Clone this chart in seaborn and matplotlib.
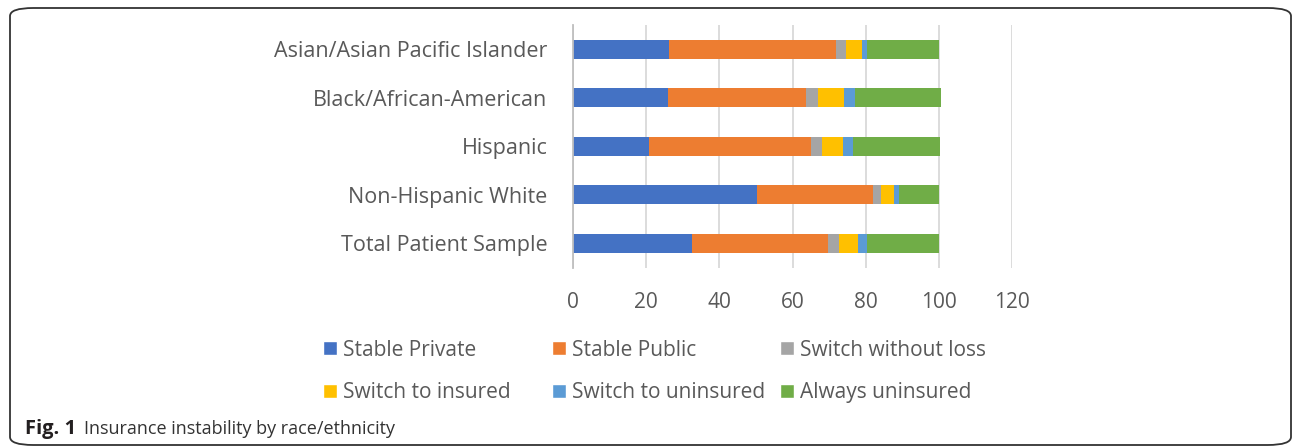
import matplotlib
matplotlib.use("Agg")
import pandas as pd
import matplotlib.pyplot as plt
import seaborn as sns
from matplotlib.patches import FancyBboxPatch, Patch

# Categories (top to bottom as drawn)
groups = ["Asian/Asian Pacific Islander", "Black/African-American", "Hispanic",
          "Non-Hispanic White", "Total Patient Sample"]

# Percentages per insurance pattern
stable_private = [26.3, 25.9, 20.8, 50.3, 32.5]
stable_public = [45.5, 37.9, 44.3, 31.6, 37.1]
switch_no_loss = [2.9, 3.3, 3.0, 2.4, 3.0]
switch_insured = [4.4, 7.1, 5.7, 3.5, 5.3]
switch_uninsured = [1.4, 2.9, 2.8, 1.4, 2.6]
always_uninsured = [19.5, 23.4, 23.6, 10.8, 19.5]

series_names = ["Stable Private", "Stable Public", "Switch without loss",
                "Switch to insured", "Switch to uninsured", "Always uninsured"]
colors = ["#4472C4", "#ED7D31", "#A5A5A5", "#FFC000", "#5B9BD5", "#70AD47"]

df = pd.DataFrame({"group": groups,
                   "Stable Private": stable_private,
                   "Stable Public": stable_public,
                   "Switch without loss": switch_no_loss,
                   "Switch to insured": switch_insured,
                   "Switch to uninsured": switch_uninsured,
                   "Always uninsured": always_uninsured})
cum = df[series_names].cumsum(axis=1)

sns.set_style("white")
plt.rcParams['font.family'] = ['Open Sans', 'DejaVu Sans']
text_col = "#595959"
W, H = 1292, 447

fig = plt.figure(figsize=(W / 100, H / 100), dpi=100)
ax = fig.add_axes([573 / W, 1 - 267.5 / H, 439 / W, 242.5 / H])

# stacked bars: draw cumulative totals from the largest down
for name, col in reversed(list(zip(series_names, colors))):
    sns.barplot(x=cum[name], y=df["group"], color=col, width=0.4,
                orient="h", ax=ax, saturation=1, edgecolor="none")

ax.set_xlim(0, 120)
ax.set_xticks(range(0, 121, 20))
ax.xaxis.grid(True, color="#d9d9d9", linewidth=1.3)
ax.set_axisbelow(True)
for s in ["top", "right", "bottom"]:
    ax.spines[s].set_visible(False)
ax.spines["left"].set_color("#bfbfbf")
ax.spines["left"].set_linewidth(1.3)
ax.set_xlabel("")
ax.set_ylabel("")
ax.tick_params(axis="x", length=0, pad=18, labelsize=15, labelcolor=text_col)
ax.tick_params(axis="y", length=0, pad=18.5, labelsize=15.5, labelcolor=text_col)

# legend: three equal-width columns, two rows each
handles = [Patch(facecolor=c, label=n) for n, c in zip(series_names, colors)]
col_x = [323, 552, 780]
for j, x in enumerate(col_x):
    idx = [j, j + 3]
    fig.legend([handles[i] for i in idx], [series_names[i] for i in idx],
               loc="center left", bbox_to_anchor=(x / W, 1 - 371.5 / H),
               frameon=False, fontsize=15, labelcolor=text_col,
               handlelength=0.67, handleheight=0.67, handletextpad=0.3,
               labelspacing=1.04, borderpad=0, borderaxespad=0)

fig.text(25 / W, 1 - 429 / H, "Fig. 1", fontsize=14.5, fontweight="bold",
         va="center", ha="left", color="#231f20")
fig.text(84 / W, 1 - 429 / H, "Insurance instability by race/ethnicity",
         fontsize=13, va="center", ha="left", color="#333333")

border = FancyBboxPatch((10 / W, 2 / H), 1281 / W, 437 / H,
                        boxstyle="round,pad=0,rounding_size=0.018",
                        transform=fig.transFigure, facecolor="none",
                        edgecolor="#333333", linewidth=1.3)
fig.patches.append(border)

fig.savefig("out.png", dpi=100)
